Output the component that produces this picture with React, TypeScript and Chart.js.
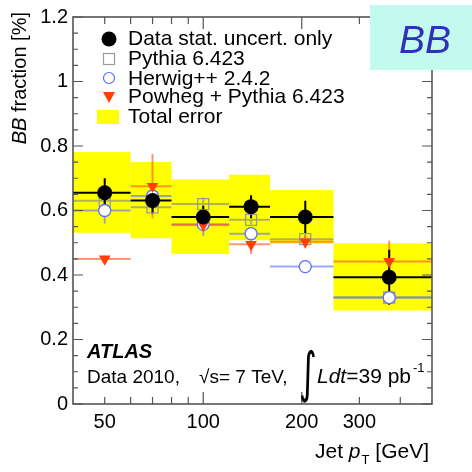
import React, { useEffect, useRef } from 'react';
import { Chart, registerables } from 'chart.js';

Chart.register(...registerables);

const FONT = '"Liberation Sans", Arial, Helvetica, sans-serif';

// Bins in jet pT [GeV]
const binLow = [40, 60, 80, 120, 160, 250];
const binHigh = [60, 80, 120, 160, 250, 500];
const binCenter = [50, 70, 100, 140, 205, 370];

// Data (stat. uncertainty only) and total error band
const dataValues = [0.655, 0.631, 0.58, 0.612, 0.58, 0.393];
const dataStatErr = [0.045, 0.04, 0.035, 0.035, 0.05, 0.085];
const totalErrLow = [0.531, 0.514, 0.465, 0.508, 0.497, 0.29];
const totalErrHigh = [0.781, 0.75, 0.696, 0.711, 0.663, 0.498];

// MC predictions
const pythiaValues = [0.63, 0.61, 0.62, 0.571, 0.511, 0.33];
const pythiaErr = [0.01, 0.02, 0.02, 0.015, 0.015, 0.015];
const herwigValues = [0.6, 0.645, 0.557, 0.528, 0.426, 0.33];
const herwigErr = [0.04, 0.02, 0.035, 0.02, 0.01, 0.02];
const powhegValues = [0.45, 0.675, 0.555, 0.495, 0.503, 0.442];
const powhegErr = [0.01, 0.1, 0.02, 0.03, 0.02, 0.065];

// Axis ticks
const yTickValues = [0, 0.2, 0.4, 0.6, 0.8, 1, 1.2];
const xTickLabels = [50, 100, 200, 300];
const xMajorTicks = [100, 200];
const xMinorTicks = [50, 60, 70, 80, 90, 300, 400];

const legendLabels = [
  'Data stat. uncert. only',
  'Pythia 6.423',
  'Herwig++ 2.4.2',
  'Powheg + Pythia 6.423',
  'Total error',
];

const COL_PYTHIA = '#9a9a9a';
const COL_HERWIG = '#5a6cff';
const COL_POWHEG = '#ff4000';
const FRAME = '#555555';

const pts = (vals: number[]) => vals.map((v, i) => ({ x: binCenter[i], y: v }));

const overlay = {
  id: 'hepOverlay',
  beforeDatasetsDraw(chart: any) {
    const { ctx, chartArea: ca, scales } = chart;
    const xs = scales.x;
    const ys = scales.y;
    ctx.save();
    ctx.beginPath();
    ctx.rect(ca.left, ca.top, ca.right - ca.left, ca.bottom - ca.top);
    ctx.clip();
    ctx.fillStyle = '#ffff00';
    for (let i = 0; i < binLow.length; i++) {
      const x0 = xs.getPixelForValue(binLow[i]);
      const x1 = xs.getPixelForValue(binHigh[i]);
      const y0 = ys.getPixelForValue(totalErrHigh[i]);
      const y1 = ys.getPixelForValue(totalErrLow[i]);
      ctx.fillRect(x0, y0, x1 - x0, y1 - y0);
    }
    const series = (vals: number[], errs: number[], color: string, w: number) => {
      ctx.strokeStyle = color;
      ctx.lineWidth = w;
      for (let i = 0; i < vals.length; i++) {
        const x0 = xs.getPixelForValue(binLow[i]);
        const x1 = xs.getPixelForValue(binHigh[i]);
        const xc = xs.getPixelForValue(binCenter[i]);
        const y = ys.getPixelForValue(vals[i]);
        ctx.beginPath();
        ctx.moveTo(x0, y);
        ctx.lineTo(x1, y);
        ctx.moveTo(xc, ys.getPixelForValue(vals[i] + errs[i]));
        ctx.lineTo(xc, ys.getPixelForValue(vals[i] - errs[i]));
        ctx.stroke();
      }
    };
    series(pythiaValues, pythiaErr, 'rgba(130,130,130,0.6)', 2);
    series(herwigValues, herwigErr, 'rgba(90,110,255,0.6)', 2);
    series(powhegValues, powhegErr, 'rgba(255,80,30,0.6)', 2);
    series(dataValues, dataStatErr, '#000000', 2);
    ctx.restore();
  },
  afterDraw(chart: any) {
    const { ctx, chartArea: ca, scales } = chart;
    const xs = scales.x;
    const ys = scales.y;
    ctx.save();
    // frame
    ctx.strokeStyle = FRAME;
    ctx.lineWidth = 1.6;
    ctx.strokeRect(ca.left, ca.top, ca.right - ca.left, ca.bottom - ca.top);
    // y ticks (left and right, inward)
    ctx.lineWidth = 1.2;
    ctx.beginPath();
    for (let k = 0; k <= 24; k++) {
      const v = k * 0.05;
      const y = ys.getPixelForValue(v);
      const len = k % 4 === 0 ? 10 : 5;
      ctx.moveTo(ca.left, y);
      ctx.lineTo(ca.left + len, y);
      ctx.moveTo(ca.right, y);
      ctx.lineTo(ca.right - len, y);
    }
    // x ticks (bottom and top, inward)
    const xt = (vals: number[], len: number) => {
      for (const v of vals) {
        const x = xs.getPixelForValue(v);
        ctx.moveTo(x, ca.bottom);
        ctx.lineTo(x, ca.bottom - len);
        ctx.moveTo(x, ca.top);
        ctx.lineTo(x, ca.top + len);
      }
    };
    xt(xMajorTicks, 12);
    xt(xMinorTicks, 7);
    ctx.stroke();

    // legend
    const lx = 109;
    const rows = [39, 59, 78, 97, 117];
    ctx.fillStyle = '#000';
    ctx.beginPath();
    ctx.arc(lx, rows[0], 7.5, 0, Math.PI * 2);
    ctx.fill();
    ctx.strokeStyle = COL_PYTHIA;
    ctx.lineWidth = 1.2;
    ctx.strokeRect(lx - 5.5, rows[1] - 5.5, 11, 11);
    ctx.strokeStyle = COL_HERWIG;
    ctx.beginPath();
    ctx.arc(lx, rows[2], 5.5, 0, Math.PI * 2);
    ctx.stroke();
    ctx.fillStyle = COL_POWHEG;
    ctx.beginPath();
    ctx.moveTo(lx - 6, rows[3] - 5);
    ctx.lineTo(lx + 6, rows[3] - 5);
    ctx.lineTo(lx, rows[3] + 6);
    ctx.closePath();
    ctx.fill();
    ctx.fillStyle = '#ffff00';
    ctx.fillRect(97, 110, 22, 14);
    ctx.fillStyle = '#000';
    ctx.font = `21px ${FONT}`;
    ctx.textBaseline = 'alphabetic';
    ctx.textAlign = 'left';
    const base = [45, 65, 85, 103, 123];
    legendLabels.forEach((t, i) => ctx.fillText(t, 128, base[i]));

    // ATLAS label
    ctx.font = `italic bold 20px ${FONT}`;
    ctx.fillText('ATLAS', 87, 358);
    ctx.font = `19px ${FONT}`;
    ctx.fillText('Data 2010,', 87, 383);
    ctx.fillText('\u221As= 7 TeV,', 199, 383);
    ctx.save();
    ctx.translate(299, 391);
    ctx.scale(1, 1.6);
    ctx.font = `34px "DejaVu Sans", ${FONT}`;
    ctx.fillText('\u222B', 0, 0);
    ctx.restore();
    ctx.font = `italic 21px ${FONT}`;
    ctx.fillText('Ldt', 317, 383);
    const wl = ctx.measureText('Ldt').width;
    ctx.font = `21px ${FONT}`;
    ctx.fillText('=39 pb', 317 + wl, 383);
    const wp = ctx.measureText('=39 pb').width;
    ctx.font = `13px ${FONT}`;
    ctx.fillText('-1', 317 + wl + wp + 2, 372);

    // x title
    let x = 315;
    ctx.font = `21px ${FONT}`;
    ctx.fillText('Jet ', x, 458);
    x += ctx.measureText('Jet ').width;
    ctx.font = `italic 21px ${FONT}`;
    ctx.fillText('p', x, 458);
    x += ctx.measureText('p').width + 1;
    ctx.font = `13px ${FONT}`;
    ctx.fillText('T', x, 464);
    x += ctx.measureText('T').width;
    ctx.font = `21px ${FONT}`;
    ctx.fillText(' [GeV]', x, 458);

    // y title
    ctx.font = `italic 20px ${FONT}`;
    const wbb = ctx.measureText('BB').width;
    ctx.font = `20px ${FONT}`;
    const wrest = ctx.measureText(' fraction [%]').width;
    ctx.save();
    ctx.translate(26, 12 + wbb + wrest);
    ctx.rotate(-Math.PI / 2);
    ctx.font = `italic 20px ${FONT}`;
    ctx.fillText('BB', 0, 0);
    ctx.font = `20px ${FONT}`;
    ctx.fillText(' fraction [%]', wbb, 0);
    ctx.restore();

    // BB badge
    ctx.fillStyle = '#c2faee';
    ctx.fillRect(370, 5, 102, 65);
    ctx.fillStyle = '#3030b8';
    ctx.font = `italic 39px ${FONT}`;
    ctx.fillText('BB', 399, 53);
    ctx.restore();
  },
};

export default function App() {
  const ref = useRef<HTMLCanvasElement>(null);
  useEffect(() => {
    const canvas = ref.current;
    if (!canvas) return;
    const chart = new Chart(canvas, {
      type: 'scatter',
      data: {
        datasets: [
          {
            label: 'Data stat. uncert. only',
            data: pts(dataValues),
            pointStyle: 'circle',
            radius: 7.5,
            backgroundColor: '#000',
            borderColor: '#000',
            borderWidth: 0,
          },
          {
            label: 'Powheg + Pythia 6.423',
            data: pts(powhegValues),
            pointStyle: 'triangle',
            rotation: 180,
            radius: 6.8,
            backgroundColor: COL_POWHEG,
            borderColor: COL_POWHEG,
            borderWidth: 0,
          },
          {
            label: 'Herwig++ 2.4.2',
            data: pts(herwigValues),
            pointStyle: 'circle',
            radius: 6,
            backgroundColor: '#ffffff',
            borderColor: COL_HERWIG,
            borderWidth: 1.3,
          },
          {
            label: 'Pythia 6.423',
            data: pts(pythiaValues),
            pointStyle: 'rect',
            radius: 7.8,
            backgroundColor: 'rgba(0,0,0,0)',
            borderColor: COL_PYTHIA,
            borderWidth: 1.3,
          },
        ],
      } as any,
      options: {
        animation: false,
        responsive: false,
        events: [],
        layout: { padding: { top: 15, right: 40, left: 0, bottom: 0 } },
        plugins: { legend: { display: false }, tooltip: { enabled: false } },
        scales: {
          x: {
            type: 'logarithmic',
            min: 40,
            max: 500,
            grid: { display: false, drawTicks: false },
            border: { display: false },
            afterBuildTicks: (scale: any) => {
              scale.ticks = xTickLabels.map((v) => ({ value: v }));
            },
            afterFit: (scale: any) => {
              scale.height = 68;
            },
            ticks: {
              autoSkip: false,
              maxRotation: 0,
              padding: 6,
              color: '#000',
              font: { family: FONT, size: 20 },
              callback: (v: any) => String(v),
            },
          },
          y: {
            type: 'linear',
            min: 0,
            max: 1.2,
            grid: { display: false, drawTicks: false },
            border: { display: false },
            afterBuildTicks: (scale: any) => {
              scale.ticks = yTickValues.map((v) => ({ value: v }));
            },
            afterFit: (scale: any) => {
              scale.width = 73;
            },
            ticks: {
              padding: 5,
              color: '#000',
              font: { family: FONT, size: 20 },
              callback: (v: any) => String(Number(Number(v).toFixed(1))),
            },
          },
        },
      } as any,
      plugins: [overlay],
    });
    return () => chart.destroy();
  }, []);
  return (
    <div style={{ position: 'fixed', left: 0, top: 0, width: 472, height: 472, background: '#fff' }}>
      <canvas ref={ref} width={472} height={472} style={{ width: 472, height: 472, display: 'block' }} />
    </div>
  );
}
